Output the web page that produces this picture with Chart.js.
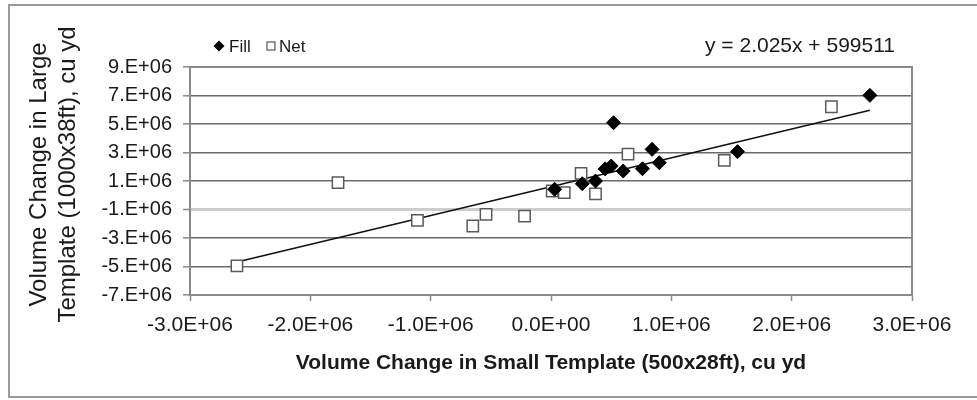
<!DOCTYPE html>
<html>
<head>
<meta charset="utf-8">
<script src="https://cdn.jsdelivr.net/npm/chart.js@4.4.1/dist/chart.umd.min.js"></script>
<style>
  html, body { margin: 0; padding: 0; background: #fff; }
  #wrap { width: 977px; height: 400px; }
</style>
</head>
<body>
<div id="wrap"><canvas id="chart" width="977" height="400"></canvas></div>
<script>
// volume change, small template (x) vs large template (y), cu yd
const fillX = [0.03e6, 0.26e6, 0.37e6, 0.45e6, 0.50e6, 0.60e6, 0.52e6, 0.76e6, 0.84e6, 0.90e6, 1.55e6, 2.65e6];
const fillY = [0.42e6, 0.81e6, 1.00e6, 1.85e6, 2.05e6, 1.70e6, 5.09e6, 1.86e6, 3.22e6, 2.28e6, 3.06e6, 7.01e6];
const netX = [-2.61e6, -1.77e6, -1.11e6, -0.65e6, -0.54e6, -0.22e6, 0.01e6, 0.11e6, 0.25e6, 0.37e6, 0.64e6, 1.44e6, 2.33e6];
const netY = [-4.96e6, 0.88e6, -1.76e6, -2.16e6, -1.34e6, -1.46e6, 0.30e6, 0.19e6, 1.53e6, 0.09e6, 2.89e6, 2.45e6, 6.21e6];

// linear trend as printed on the chart
const trendSlope = 2.025;
const trendIntercept = 599511;
const trendXRange = [-2.61e6, 2.65e6];
const trendLabel = "y = 2.025x + 599511";

const xTicks = [-3e6, -2e6, -1e6, 0, 1e6, 2e6, 3e6];
const xTickLabels = ["-3.0E+06", "-2.0E+06", "-1.0E+06", "0.0E+00", "1.0E+06", "2.0E+06", "3.0E+06"];
const yTicks = [-7e6, -5e6, -3e6, -1e6, 1e6, 3e6, 5e6, 7e6, 9e6];
const yTickLabels = ["-7.E+06", "-5.E+06", "-3.E+06", "-1.E+06", "1.E+06", "3.E+06", "5.E+06", "7.E+06", "9.E+06"];

const seriesNames = ["Fill", "Net"];
const xTitle = "Volume Change in Small Template (500x28ft), cu yd";
const yTitle = ["Volume Change in Large", "Template (1000x38ft), cu yd"];

const FONT = '"Liberation Sans", Arial, sans-serif';
const TEXT = "#1a1a1a";
const FRAME = "#8a8a8a";

Chart.defaults.font.family = FONT;
Chart.defaults.color = TEXT;

const toPoints = (xs, ys) => xs.map((x, i) => ({ x, y: ys[i] }));
const trendAt = (x) => trendSlope * x + trendIntercept;

// frame, rotated y title, legend and trend equation
const decor = {
  id: "decor",
  beforeDatasetsDraw(chart) {
    const { ctx, chartArea: a } = chart;
    ctx.save();
    ctx.strokeStyle = FRAME;
    ctx.lineWidth = 2;
    ctx.strokeRect(a.left, a.top, a.right - a.left, a.bottom - a.top);
    ctx.restore();
  },
  afterDraw(chart) {
    const { ctx } = chart;
    ctx.save();

    // outer border
    ctx.strokeStyle = "#9a9a9a";
    ctx.lineWidth = 2;
    ctx.strokeRect(9, 5, 980, 392);

    // y axis title, two lines
    ctx.fillStyle = TEXT;
    ctx.font = `24px ${FONT}`;
    ctx.textAlign = "center";
    ctx.textBaseline = "middle";
    const cols = [39, 68];
    yTitle.forEach((line, i) => {
      ctx.save();
      ctx.translate(cols[i], 174.5);
      ctx.rotate(-Math.PI / 2);
      ctx.fillText(line, 0, 0);
      ctx.restore();
    });

    // legend
    const ly = 46;
    ctx.fillStyle = "#000";
    ctx.beginPath();
    ctx.moveTo(219, ly - 5.5);
    ctx.lineTo(224.5, ly);
    ctx.lineTo(219, ly + 5.5);
    ctx.lineTo(213.5, ly);
    ctx.closePath();
    ctx.fill();
    ctx.strokeStyle = "#555";
    ctx.lineWidth = 1.2;
    ctx.strokeRect(267, ly - 4, 8, 8);
    ctx.fillStyle = TEXT;
    ctx.font = `17px ${FONT}`;
    ctx.textAlign = "left";
    ctx.fillText(seriesNames[0], 229, ly + 1);
    ctx.fillText(seriesNames[1], 279, ly + 1);

    // trend equation
    ctx.font = `21px ${FONT}`;
    ctx.textAlign = "center";
    ctx.fillText(trendLabel, 800, 46);

    ctx.restore();
  }
};

new Chart(document.getElementById("chart"), {
  type: "scatter",
  data: {
    datasets: [
      {
        label: seriesNames[0],
        data: toPoints(fillX, fillY),
        pointStyle: "rectRot",
        pointRadius: 7,
        backgroundColor: "#000",
        borderColor: "#000",
        borderWidth: 1
      },
      {
        label: seriesNames[1],
        data: toPoints(netX, netY),
        pointStyle: "rect",
        pointRadius: 8,
        backgroundColor: "#fff",
        borderColor: "#5a5a5a",
        borderWidth: 1.5
      },
      {
        label: "trend",
        type: "line",
        data: trendXRange.map(x => ({ x, y: trendAt(x) })),
        borderColor: "#111",
        borderWidth: 1.6,
        pointRadius: 0,
        fill: false
      }
    ]
  },
  options: {
    responsive: false,
    animation: false,
    events: [],
    layout: { padding: { top: 67, right: 65, left: 0, bottom: 0 } },
    plugins: {
      legend: { display: false },
      tooltip: { enabled: false }
    },
    scales: {
      x: {
        type: "linear",
        min: -3e6,
        max: 3e6,
        afterFit: (s) => { s.height = 105; },
        afterBuildTicks: (s) => { s.ticks = xTicks.map(value => ({ value })); },
        ticks: {
          font: { size: 21 },
          padding: 12,
          maxRotation: 0,
          autoSkip: false,
          callback: (v) => xTickLabels[xTicks.indexOf(v)] ?? ""
        },
        grid: {
          drawOnChartArea: false,
          drawTicks: true,
          tickLength: 6,
          tickColor: FRAME,
          tickWidth: 1.5
        },
        border: { display: true, color: FRAME, width: 2 },
        title: {
          display: true,
          text: xTitle,
          font: { size: 21, weight: "bold" },
          padding: { top: 0, bottom: 24 }
        }
      },
      y: {
        type: "linear",
        min: -7e6,
        max: 9e6,
        afterFit: (s) => { s.width = 190; },
        afterBuildTicks: (s) => { s.ticks = yTicks.map(value => ({ value })); },
        ticks: {
          font: { size: 20 },
          padding: 11,
          autoSkip: false,
          callback: (v) => yTickLabels[yTicks.indexOf(v)] ?? ""
        },
        grid: {
          drawTicks: true,
          tickLength: 7,
          tickColor: FRAME,
          tickWidth: 1.5,
          color: (c) => (c.tick && c.tick.value === -1e6 ? "#cdcdcd" : "#6a6a6a"),
          lineWidth: (c) => (c.tick && c.tick.value === -1e6 ? 3 : 1.6)
        },
        border: { display: true, color: FRAME, width: 2 }
      }
    }
  },
  plugins: [decor]
});
</script>
</body>
</html>
